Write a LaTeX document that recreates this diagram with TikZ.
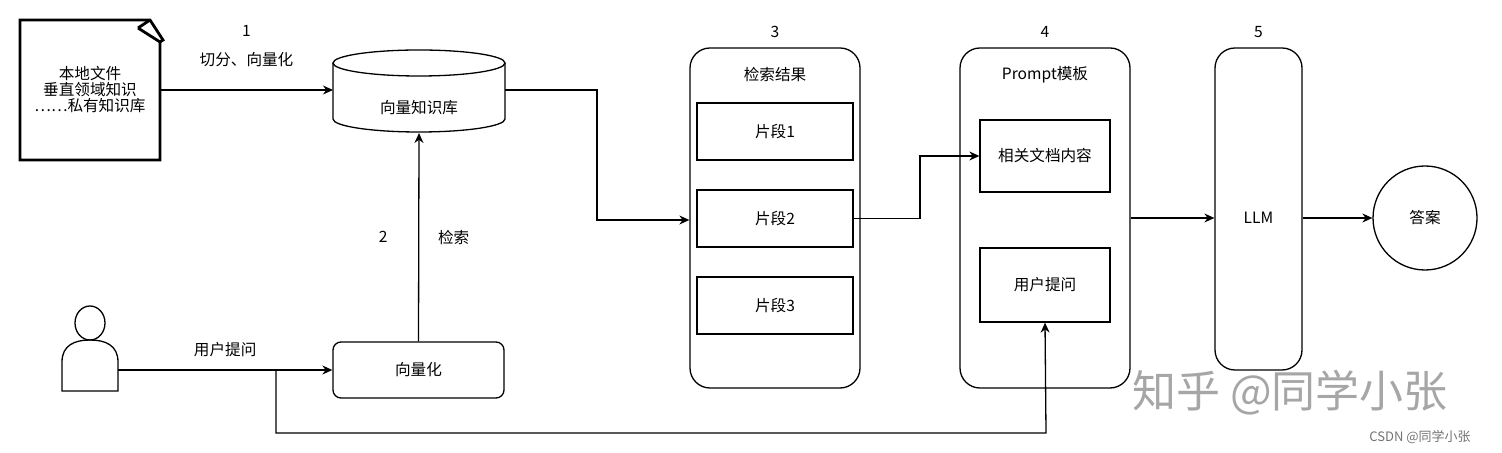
\documentclass[tikz,border=0pt]{standalone}
\usepackage{fontspec}
\setmainfont{Noto Sans CJK SC}
\usetikzlibrary{arrows.meta,shapes.geometric}
\begin{document}
\begin{tikzpicture}[x=0.5pt,y=-0.5pt,
  line width=0.65pt,
  txt/.style={font=\fontsize{7.8}{9.5}\selectfont},
  box/.style={draw,rounded corners=4pt,txt,inner sep=0pt},
  cont/.style={draw,rounded corners=10pt,inner sep=0pt},
  arr/.style={-{Stealth[length=5pt,width=4.5pt]}}]
\useasboundingbox (0,0) rectangle (1502,453);
% document
\draw[line width=1.4pt] (20,20) -- (150,20) -- (163,40) -- (160,42) -- (160,160) -- (20,160) -- cycle;
\draw[line width=1.4pt] (138,28) -- (150,20) (138,28) -- (160,42);
\node[txt,align=center,inner sep=0pt] (doc) at (90,90) {本地文件\\[-1.5pt]垂直领域知识\\[-1.5pt]……私有知识库};
\coordinate (docR) at (160,90);
% cylinder
\draw (333,63) -- (333,119) arc[start angle=180,end angle=0,x radius=86,y radius=13] -- (505,63);
\draw (419,63) ellipse [x radius=86,y radius=13];
\node[txt] (kb) at (419,108) {向量知识库};
\coordinate (kbL) at (333,90);
\coordinate (kbR) at (505,90);
\coordinate (kbB) at (419,133);
\draw[arr] (docR) -- node[txt,above=8pt] {切分、向量化} node[txt,above=23pt] {1} (kbL);
% person
\draw (90,323) ellipse [x radius=15,y radius=17];
\draw (62,391) -- (62,362) .. controls (62,345) and (75,340) .. (90,340) .. controls (105,340) and (118,345) .. (118,362) -- (118,391) -- cycle;
\coordinate (pR) at (118,370);
% vectorize
\node[box,minimum width=85.5pt,minimum height=28pt] (vec) at (418.5,370) {向量化};
\draw[arr] (pR) -- node[txt,above=3pt,pos=0.5] {用户提问} (vec.west);
\draw[arr] (vec.north) -- node[txt,left=12pt] {2} node[txt,right=6pt] {检索} (kbB);
% container 3
\node[cont,minimum width=85pt,minimum height=170pt] (c3) at (775,218) {};
\node[txt] (t3) at (775,75) {检索结果};
\node[txt] (n3) at (775,32) {3};
\node[draw,txt,minimum width=78pt,minimum height=28.5pt] (s1) at (775,131.5) {片段1};
\node[draw,txt,minimum width=78pt,minimum height=28.5pt] (s2) at (775,218.5) {片段2};
\node[draw,txt,minimum width=78pt,minimum height=28.5pt] (s3) at (775,305.5) {片段3};
\draw[arr] (kbR) -- (597,90) -- (597,220) -- (c3.west |- 0,220);
% container 4
\node[cont,minimum width=85pt,minimum height=170pt] (c4) at (1045,218) {};
\node[txt] (t4) at (1045,75) {Prompt模板};
\node[txt] (n4) at (1045,32) {4};
\node[draw,txt,minimum width=65pt,minimum height=36pt] (doc2) at (1045,156) {相关文档内容};
\node[draw,txt,minimum width=65pt,minimum height=37pt] (q) at (1045,285) {用户提问};
\draw[arr] (s2.east) -- (920,218.5) -- (920,156) -- (doc2.west);
\draw[arr] (276,370) -- (276,433) -- (1046,433) -- (q.south);
% LLM
\node[cont,minimum width=43.5pt,minimum height=161pt] (llm) at (1258.5,209) {};
\node[txt] (llmt) at (1258.5,218) {LLM};
\node[txt] (n5) at (1258.5,32) {5};
\draw[arr] (c4.east |- 0,218) -- (llm.west |- 0,218);
\node[draw,circle,txt,minimum size=52pt] (ans) at (1425,218) {答案};
\draw[arr] (llm.east |- 0,218) -- (ans.west);
% watermarks
\node[text=black!35,font=\fontsize{22}{24}\selectfont] (wm) at (1290,393) {知乎 @同学小张};
\node[text=black!55,font=\fontsize{6.5}{8}\selectfont] (wm2) at (1420,437) {CSDN @同学小张};
\end{tikzpicture}
\end{document}
